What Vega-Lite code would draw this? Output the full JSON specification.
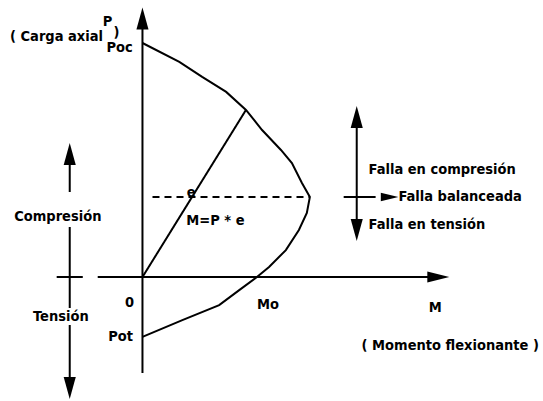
{
  "$schema": "https://vega.github.io/schema/vega-lite/v6.json",
  "width": 543,
  "height": 401,
  "padding": 0,
  "autosize": {"type": "fit", "contains": "padding"},
  "background": "white",
  "config": {"view": {"stroke": null}},
  "datasets": {
    "curve": [
      {"i": 0, "M": 0, "P": 100},
      {"i": 1, "M": 15.8, "P": 91.9},
      {"i": 2, "M": 25.6, "P": 85.5},
      {"i": 3, "M": 35.9, "P": 79.1},
      {"i": 4, "M": 44.4, "P": 71.4},
      {"i": 5, "M": 51.3, "P": 62.8},
      {"i": 6, "M": 59.4, "P": 54.3},
      {"i": 7, "M": 64.1, "P": 48.7},
      {"i": 8, "M": 68.4, "P": 40.2},
      {"i": 9, "M": 71.8, "P": 34.2},
      {"i": 10, "M": 70.5, "P": 27.4},
      {"i": 11, "M": 67.1, "P": 20.1},
      {"i": 12, "M": 61.5, "P": 11.5},
      {"i": 13, "M": 54.3, "P": 4.3},
      {"i": 14, "M": 49.1, "P": 0},
      {"i": 15, "M": 41.5, "P": -5.6},
      {"i": 16, "M": 32.9, "P": -12.0},
      {"i": 17, "M": 17.1, "P": -18.4},
      {"i": 18, "M": 0, "P": -25.6}
    ],
    "segments": [
      {"name": "eje P", "kind": "solid", "m1": 0, "p1": -41.0, "m2": 0, "p2": 112.4},
      {"name": "eje M", "kind": "solid", "m1": -19.2, "p1": 0, "m2": 124.8, "p2": 0},
      {"name": "M=P*e", "kind": "solid", "m1": 0, "p1": 0, "m2": 44.4, "p2": 71.4},
      {"name": "balanceada", "kind": "dashed", "m1": 4.3, "p1": 34.2, "m2": 71.8, "p2": 34.2},
      {"name": "compresion a", "kind": "solid", "m1": -31.2, "p1": 50.0, "m2": -31.2, "p2": 36.3},
      {"name": "compresion b", "kind": "solid", "m1": -31.2, "p1": 21.4, "m2": -31.2, "p2": -13.2},
      {"name": "tension", "kind": "solid", "m1": -31.2, "p1": -20.5, "m2": -31.2, "p2": -44.0},
      {"name": "cruz", "kind": "solid", "m1": -36.8, "p1": 0, "m2": -25.6, "p2": 0},
      {"name": "falla vertical", "kind": "solid", "m1": 91.9, "p1": 67.1, "m2": 91.9, "p2": 17.9},
      {"name": "falla horizontal", "kind": "solid", "m1": 86.3, "p1": 34.2, "m2": 100.0, "p2": 34.2}
    ],
    "arrows": [
      {"dir": "up", "M": 0, "P": 110.5},
      {"dir": "right", "M": 126.9, "P": 0},
      {"dir": "up", "M": -31.2, "P": 52.6},
      {"dir": "down", "M": -31.2, "P": -47.4},
      {"dir": "up", "M": 91.9, "P": 68.4},
      {"dir": "down", "M": 91.9, "P": 20.1},
      {"dir": "rightsmall", "M": 106.0, "P": 34.2}
    ],
    "labels": [
      {"t": "( Carga axial", "M": -56.8, "P": 102.6, "a": "left"},
      {"t": ")", "M": -11.1, "P": 104.3, "a": "center"},
      {"t": "P", "M": -15.0, "P": 109.0, "a": "center"},
      {"t": "Poc", "M": -9.8, "P": 97.9, "a": "center"},
      {"t": "e", "M": 20.9, "P": 35.9, "a": "center"},
      {"t": "M=P * e", "M": 18.8, "P": 23.9, "a": "left"},
      {"t": "Falla en compresión", "M": 97.0, "P": 45.7, "a": "left"},
      {"t": "Falla balanceada", "M": 109.8, "P": 34.2, "a": "left"},
      {"t": "Falla en tensión", "M": 97.0, "P": 22.2, "a": "left"},
      {"t": "Compresión", "M": -36.3, "P": 25.6, "a": "center"},
      {"t": "Tensión", "M": -35.0, "P": -17.1, "a": "center"},
      {"t": "0", "M": -5.6, "P": -11.1, "a": "center"},
      {"t": "Pot", "M": -9.4, "P": -25.6, "a": "center"},
      {"t": "Mo", "M": 53.8, "P": -12.0, "a": "center"},
      {"t": "M", "M": 125.6, "P": -13.2, "a": "center"},
      {"t": "( Momento  flexionante )", "M": 94.0, "P": -29.5, "a": "left"}
    ]
  },
  "layer": [
    {
      "data": {"name": "segments"},
      "mark": {"type": "rule", "color": "black", "strokeWidth": 2},
      "encoding": {
        "x": {"field": "m1", "type": "quantitative", "scale": {"domain": [-61.11, 170.94], "nice": false, "zero": false}, "axis": null},
        "y": {"field": "p1", "type": "quantitative", "scale": {"domain": [-52.99, 118.38], "nice": false, "zero": false}, "axis": null},
        "x2": {"field": "m2"},
        "y2": {"field": "p2"},
        "strokeDash": {"field": "kind", "type": "nominal", "scale": {"domain": ["solid", "dashed"], "range": [[1, 0], [7, 5]]}, "legend": null}
      }
    },
    {
      "data": {"name": "curve"},
      "mark": {"type": "line", "color": "black", "strokeWidth": 2},
      "encoding": {
        "x": {"field": "M", "type": "quantitative"},
        "y": {"field": "P", "type": "quantitative"},
        "order": {"field": "i", "type": "quantitative"}
      }
    },
    {
      "data": {"name": "arrows"},
      "mark": {"type": "point", "filled": true, "color": "black", "opacity": 1, "size": 484},
      "encoding": {
        "x": {"field": "M", "type": "quantitative"},
        "y": {"field": "P", "type": "quantitative"},
        "shape": {
          "field": "dir", "type": "nominal", "legend": null,
          "scale": {
            "domain": ["up", "down", "right", "rightsmall"],
            "range": [
              "M0,-1L0.55,1L-0.55,1Z",
              "M0,1L0.55,-1L-0.55,-1Z",
              "M1,0L-1,-0.5L-1,0.5Z",
              "M0.8,0L-0.8,-0.38L-0.8,0.38Z"
            ]
          }
        }
      }
    },
    {
      "data": {"name": "labels"},
      "transform": [{"filter": "datum.a === 'left'"}],
      "mark": {"type": "text", "font": "DejaVu Sans Condensed", "fontSize": 14.5, "fontWeight": "bold", "color": "black", "baseline": "middle", "align": "left"},
      "encoding": {
        "x": {"field": "M", "type": "quantitative"},
        "y": {"field": "P", "type": "quantitative"},
        "text": {"field": "t"}
      }
    },
    {
      "data": {"name": "labels"},
      "transform": [{"filter": "datum.a === 'center'"}],
      "mark": {"type": "text", "font": "DejaVu Sans Condensed", "fontSize": 14.5, "fontWeight": "bold", "color": "black", "baseline": "middle", "align": "center"},
      "encoding": {
        "x": {"field": "M", "type": "quantitative"},
        "y": {"field": "P", "type": "quantitative"},
        "text": {"field": "t"}
      }
    }
  ]
}
